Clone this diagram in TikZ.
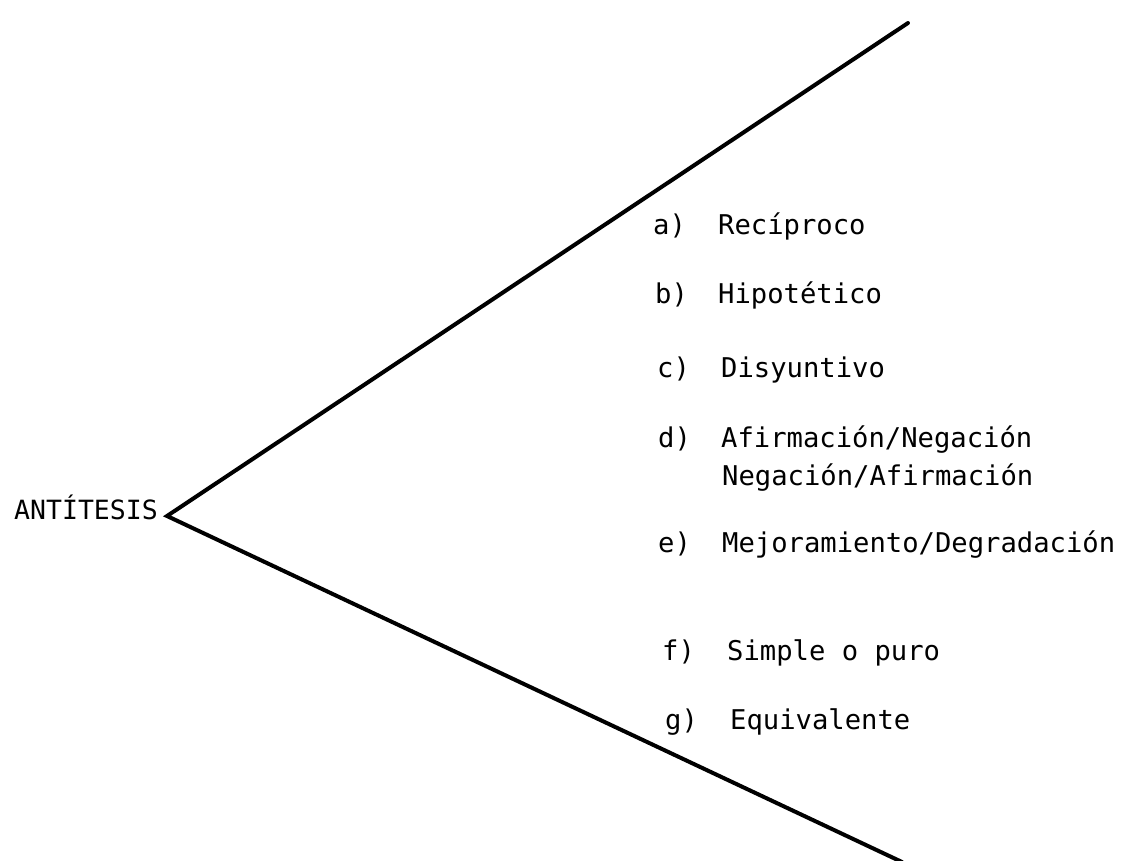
\documentclass[tikz,border=0pt]{standalone}
\usepackage{fontspec}
\newfontfamily\tw{DejaVu Sans Mono}
\begin{document}
\begin{tikzpicture}[x=1pt,y=-1pt,
  txt/.style={anchor=base west,inner sep=0pt,font=\tw\fontsize{27.2}{32}\selectfont},
  ttl/.style={anchor=base east,inner sep=0pt,font=\tw\fontsize{26.5}{32}\selectfont},
  branch/.style={line width=4pt,line cap=round,line join=miter}]
\useasboundingbox (0,0) rectangle (1125,861);
\coordinate (v) at (167,516);
\coordinate (top) at (908,23);
\coordinate (bot) at (902,862);
\node[ttl] (ant) at (158,519) {ANTÍTESIS};
\draw[branch] (top) -- (v) -- (bot);
\node[txt] (la) at (653,235) {a)};
\node[txt] (ta) at (718,235) {Recíproco};
\node[txt] (lb) at (655,304) {b)};
\node[txt] (tb) at (718,304) {Hipotético};
\node[txt] (lc) at (657,377) {c)};
\node[txt] (tc) at (721,377) {Disyuntivo};
\node[txt] (ld) at (658,447) {d)};
\node[txt] (td) at (721,447) {Afirmación/Negación};
\node[txt] (td2) at (722,485) {Negación/Afirmación};
\node[txt] (le) at (658,552) {e)};
\node[txt] (te) at (722,552) {Mejoramiento/Degradación};
\node[txt] (lf) at (662,660) {f)};
\node[txt] (tf) at (727,660) {Simple o puro};
\node[txt] (lg) at (665,729) {g)};
\node[txt] (tg) at (730,729) {Equivalente};
\end{tikzpicture}
\end{document}
